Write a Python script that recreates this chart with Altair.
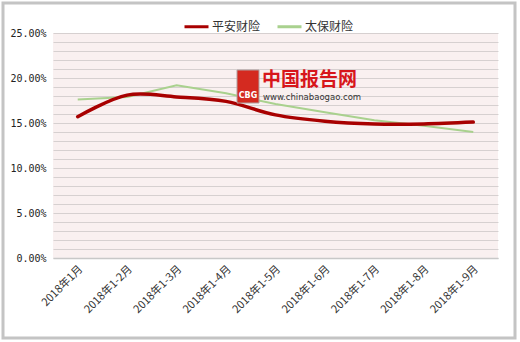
import altair as alt
import pandas as pd

categories = ["2018年1月", "2018年1-2月", "2018年1-3月", "2018年1-4月", "2018年1-5月",
              "2018年1-6月", "2018年1-7月", "2018年1-8月", "2018年1-9月"]
pingan = [15.7, 18.1, 17.9, 17.4, 15.9, 15.2, 14.9, 14.9, 15.1]
taibao = [17.6, 17.9, 19.2, 18.3, 17.1, 16.2, 15.3, 14.7, 14.0]
series_names = ["平安财险", "太保财险"]
series_colors = ["#A80000", "#A9D18E"]
y_ticks = [i / 100 for i in range(0, 26)]

rows = []
for c, a, b in zip(categories, pingan, taibao):
    rows.append({"月份": c, "系列": series_names[0], "值": a / 100})
    rows.append({"月份": c, "系列": series_names[1], "值": b / 100})
df = pd.DataFrame(rows)

FONT = "Noto Sans CJK SC"

x_enc = alt.X("月份:N", sort=categories, title=None,
              scale=alt.Scale(paddingInner=1, paddingOuter=0.5),
              axis=alt.Axis(labelAngle=-45, labelAlign="right", labelBaseline="middle",
                            labelPadding=9, labelOffset=3, ticks=False, domain=True,
                            domainColor="#C8C8C8", domainWidth=1.5, labelFont=FONT,
                            labelFontSize=11, labelColor="#333333", grid=False))
y_enc = alt.Y("值:Q", title=None,
              scale=alt.Scale(domain=[0, 0.25], nice=False),
              axis=alt.Axis(values=y_ticks, ticks=False, domain=False,
                            labelExpr="(round(datum.value*100) % 5 == 0) ? format(datum.value, '.2%') : ''",
                            labelFont="DejaVu Sans Mono", labelFontSize=10,
                            labelColor="#222222", labelPadding=7,
                            grid=True, gridColor="#D6D0D0", gridWidth=1))
color_enc = alt.Color("系列:N", title=None,
                      scale=alt.Scale(domain=series_names, range=series_colors),
                      legend=alt.Legend(orient="none", legendX=130, legendY=-20,
                                        direction="horizontal", symbolType="stroke",
                                        symbolSize=576, symbolStrokeWidth=3,
                                        labelFont=FONT, labelFontSize=12,
                                        labelColor="#333333", columnPadding=10,
                                        labelOffset=2))

base = alt.Chart(df)

red_line = base.transform_filter(alt.datum["系列"] == series_names[0]).mark_line(
    interpolate="catmull-rom", strokeWidth=3.5, strokeCap="round"
).encode(x=x_enc, y=y_enc, color=color_enc)

green_line = base.transform_filter(alt.datum["系列"] == series_names[1]).mark_line(
    interpolate="linear", strokeWidth=2
).encode(x=x_enc, y=y_enc, color=color_enc)

deco = pd.DataFrame({"a": [0]})
frame = alt.Chart(deco).mark_rect(fill=None, stroke="#C4C4C4", strokeWidth=3, clip=False).encode(
    x=alt.value(-50), x2=alt.value(462), y=alt.value(-30), y2=alt.value(305))

logo = alt.Chart(deco).mark_rect(fill="#D42A20", stroke="#B0A0A0", strokeWidth=1).encode(
    x=alt.value(184), x2=alt.value(206), y=alt.value(37), y2=alt.value(70))
logo_text = alt.Chart(deco).mark_text(text="CBG", font="DejaVu Sans", fontSize=8,
                                      fontWeight="bold", color="#FFFFFF").encode(
    x=alt.value(195), y=alt.value(63))
wm1 = alt.Chart(deco).mark_text(text="中国报告网", font=FONT, fontSize=19, fontWeight="bold",
                                color="#D7161B", align="left", baseline="middle").encode(
    x=alt.value(209), y=alt.value(47))
wm2 = alt.Chart(deco).mark_text(text="www.chinabaogao.com", font="DejaVu Sans", fontSize=8.5,
                                color="#333333", align="left", baseline="middle").encode(
    x=alt.value(210), y=alt.value(64))

chart = alt.layer(green_line, red_line, logo, logo_text, wm1, wm2, frame).properties(
    width=445, height=225,
    autosize=alt.AutoSizeParams(type="none"),
    padding={"left": 53, "top": 33, "right": 22, "bottom": 84},
    background="#FFFFFF"
).configure_view(fill="#F9F0F0", stroke=None)

chart.save("out.html", embed_options={"renderer": "svg", "actions": False})
